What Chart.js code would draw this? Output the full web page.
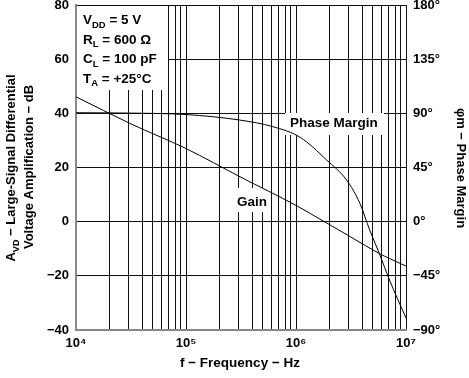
<!DOCTYPE html>
<html>
<head>
<meta charset="utf-8">
<script src="https://cdn.jsdelivr.net/npm/chart.js@4/dist/chart.umd.min.js"></script>
<style>
html,body{margin:0;padding:0;background:#fff;}
#wrap{width:469px;height:378px;}
</style>
</head>
<body>
<div id="wrap"><canvas id="c" width="469" height="378"></canvas></div>
<script>
// ---- data ----
const gainFreq = [1e4, 3.16e4, 1e5, 3.16e5, 1e6, 1.81e6, 3.16e6, 5.8e6, 7.08e6, 1e7];
const gainDb   = [46.1, 36.1, 27.0, 16.4, 6.0, 0, -5.7, -11.9, -13.6, -16.4];
const pmFreq   = [1e4, 3e4, 1e5, 3.09e5, 6.17e5, 1.09e6, 1.9e6, 2.88e6, 3.8e6, 4.68e6, 5.75e6, 7.08e6, 1e7];
const pmDeg    = [90.5, 90.2, 89, 84.4, 78.9, 70.1, 51.2, 34.6, 15.5, -7, -26.9, -48.5, -80];
const xGridValues = [1e4,2e4,3e4,4e4,5e4,6e4,7e4,8e4,9e4,1e5,2e5,3e5,4e5,5e5,6e5,7e5,8e5,9e5,1e6,2e6,3e6,4e6,5e6,6e6,7e6,8e6,9e6,1e7];
const xTickLabels = {1e4:'10\u2074', 1e5:'10\u2075', 1e6:'10\u2076', 1e7:'10\u2077'};
const yLeftRange = [-40, 80];
const yRightRange = [-90, 180];

const FONT = '"Liberation Sans", Arial, Helvetica, sans-serif';

function drawRich(ctx, segs, x, y, align, size) {
  let w = 0;
  segs.forEach(s => {
    ctx.font = 'bold ' + (s.sub ? size*0.7 : size) + 'px ' + FONT;
    s.w = ctx.measureText(s.t).width;
    w += s.w;
  });
  let cx = align === 'center' ? x - w/2 : (align === 'right' ? x - w : x);
  ctx.textAlign = 'left';
  ctx.textBaseline = 'alphabetic';
  segs.forEach(s => {
    ctx.font = 'bold ' + (s.sub ? size*0.7 : size) + 'px ' + FONT;
    ctx.fillText(s.t, cx, y + (s.sub ? size*0.28 : 0));
    cx += s.w;
  });
}

const annot = {
  id: 'annot',
  beforeDatasetsDraw(chart) {
    const ctx = chart.ctx;
    const a = chart.chartArea;
    ctx.save();
    ctx.fillStyle = '#fff';
    ctx.fillRect(a.left + 1, a.top + 1, 167 - a.left, 89 - a.top);
    ctx.fillRect(285, 113, 99, 22);
    ctx.fillRect(234, 188, 36, 24);
    ctx.fillStyle = '#000';
    drawRich(ctx, [{t:'V'},{t:'DD',sub:true},{t:' = 5 V'}], 83, 24, 'left', 13.5);
    drawRich(ctx, [{t:'R'},{t:'L',sub:true},{t:' = 600 \u03A9'}], 83, 43.5, 'left', 13.5);
    drawRich(ctx, [{t:'C'},{t:'L',sub:true},{t:' = 100 pF'}], 83, 63, 'left', 13.5);
    drawRich(ctx, [{t:'T'},{t:'A',sub:true},{t:' = +25\u00B0C'}], 83, 82.5, 'left', 13.5);
    drawRich(ctx, [{t:'Phase Margin'}], 290, 127, 'left', 13.5);
    drawRich(ctx, [{t:'Gain'}], 237, 205.5, 'left', 13.5);
    ctx.restore();
  },
  afterDraw(chart) {
    const ctx = chart.ctx;
    ctx.save();
    ctx.fillStyle = '#000';
    drawRich(ctx, [{t:'f \u2212 Frequency \u2212 Hz'}], 240, 367, 'center', 13.5);
    ctx.save();
    ctx.translate(15, 168);
    ctx.rotate(-Math.PI/2);
    drawRich(ctx, [{t:'A'},{t:'VD',sub:true},{t:' \u2212 Large-Signal Differential'}], 0, 0, 'center', 13);
    ctx.restore();
    ctx.save();
    ctx.translate(33, 167);
    ctx.rotate(-Math.PI/2);
    drawRich(ctx, [{t:'Voltage Amplification \u2212 dB'}], 0, 0, 'center', 13);
    ctx.restore();
    ctx.save();
    ctx.translate(457, 168);
    ctx.rotate(Math.PI/2);
    drawRich(ctx, [{t:'\u03C6m \u2212 Phase Margin'}], 0, 0, 'center', 13);
    ctx.restore();
    ctx.restore();
  }
};

const tickFont = {family: FONT, size: 13, weight: 'bold'};

function noPadV(scale, w) { scale.width = w; scale.paddingTop = 0; scale.paddingBottom = 0; }

new Chart(document.getElementById('c'), {
  type: 'line',
  data: {
    datasets: [
      {
        label: 'Gain',
        data: gainFreq.map((f, i) => ({x: f, y: gainDb[i]})),
        yAxisID: 'y',
        borderColor: '#000', borderWidth: 1, pointRadius: 0,
        cubicInterpolationMode: 'monotone', fill: false
      },
      {
        label: 'Phase Margin',
        data: pmFreq.map((f, i) => ({x: f, y: pmDeg[i]})),
        yAxisID: 'y2',
        borderColor: '#000', borderWidth: 1, pointRadius: 0,
        cubicInterpolationMode: 'monotone', fill: false
      }
    ]
  },
  options: {
    responsive: false,
    animation: false,
    devicePixelRatio: 1,
    layout: {padding: {top: 5, left: 0, right: 0, bottom: 0}},
    plugins: {legend: {display: false}, tooltip: {enabled: false}},
    scales: {
      x: {
        type: 'logarithmic', position: 'bottom',
        min: 1e4, max: 1e7,
        afterBuildTicks(scale) { scale.ticks = xGridValues.map(v => ({value: v})); },
        afterFit(scale) { scale.height = 48; scale.paddingLeft = 0; scale.paddingRight = 0; },
        grid: {color: '#111', lineWidth: 1, drawTicks: false},
        border: {color: '#888', width: 2},
        ticks: {
          autoSkip: false, maxRotation: 0, padding: 6, color: '#000', font: tickFont,
          callback(v) { return xTickLabels[v] || ''; }
        }
      },
      y: {
        type: 'linear', position: 'left',
        min: yLeftRange[0], max: yLeftRange[1],
        afterFit(scale) { noPadV(scale, 76); },
        grid: {color: '#111', lineWidth: 1, drawTicks: false},
        border: {color: '#888', width: 2},
        ticks: {
          stepSize: 20, padding: 7, color: '#000', font: tickFont,
          callback(v) { return String(v).replace('-', '\u2212'); }
        }
      },
      y2: {
        type: 'linear', position: 'right',
        min: yRightRange[0], max: yRightRange[1],
        afterFit(scale) { noPadV(scale, 63); },
        grid: {display: false, drawTicks: false},
        border: {display: false},
        ticks: {
          stepSize: 45, padding: 7, color: '#000', font: tickFont,
          callback(v) { return String(v).replace('-', '\u2212') + '\u00B0'; }
        }
      }
    }
  },
  plugins: [annot]
});
</script>
</body>
</html>
